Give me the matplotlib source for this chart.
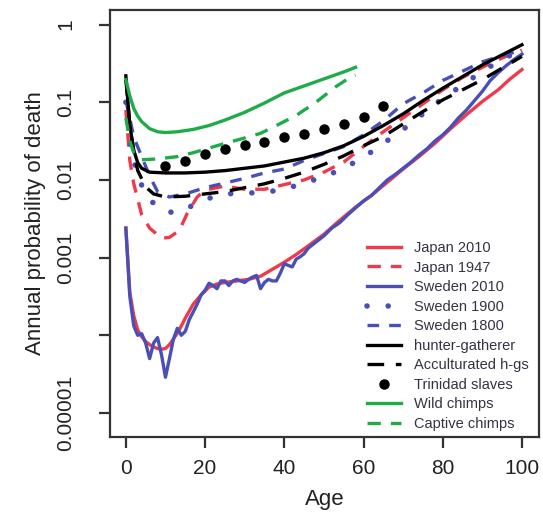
import numpy as np
import matplotlib.pyplot as plt
from matplotlib.ticker import FixedLocator, NullLocator

plt.rcParams['font.family'] = ['Liberation Sans', 'DejaVu Sans']

# log10 of annual probability of death
japan2010_age = [0, 1, 2, 3, 4, 5, 6, 7, 8, 9, 10, 11, 12, 13, 14, 15, 17, 19, 21, 23, 25, 28,
                 31, 34, 37, 40, 43, 46, 50, 54, 58, 62, 66, 70, 74, 78, 82, 86, 90, 94, 97, 100]
japan2010_log = [-2.62, -3.45, -3.75, -3.93, -4.02, -4.08, -4.12, -4.15, -4.17, -4.18, -4.17, -4.12,
                 -4.05, -3.97, -3.88, -3.78, -3.6, -3.48, -3.38, -3.34, -3.32, -3.3, -3.28, -3.24,
                 -3.15, -3.06, -2.96, -2.85, -2.7, -2.52, -2.35, -2.2, -2.03, -1.86, -1.7, -1.53,
                 -1.34, -1.16, -0.99, -0.84, -0.7, -0.58]

sweden2010_age = [0, 1, 2, 3, 4, 5, 6, 7, 8, 9, 10, 11, 12, 13, 14, 15, 16, 17, 18, 19, 20, 21, 22,
                  23, 24, 25, 26, 27, 28, 29, 30, 31, 32, 33, 34, 35, 36, 37, 38, 39, 40, 41, 42,
                  43, 44, 45, 46, 48, 50, 52, 54, 56, 58, 60, 62, 64, 66, 68, 70, 72, 74, 76, 78,
                  80, 82, 84, 86, 88, 90, 92, 94, 96, 98, 100]
sweden2010_log = [-2.62, -3.5, -3.88, -4.0, -3.98, -4.1, -4.3, -4.1, -4.03, -4.25, -4.54, -4.3,
                  -4.05, -3.91, -4.0, -3.95, -3.8, -3.7, -3.6, -3.48, -3.42, -3.33, -3.36, -3.4,
                  -3.3, -3.3, -3.36, -3.3, -3.28, -3.3, -3.32, -3.28, -3.25, -3.23, -3.4, -3.32,
                  -3.28, -3.3, -3.3, -3.2, -3.08, -3.1, -3.12, -3.02, -2.99, -2.95, -2.88, -2.8,
                  -2.72, -2.62, -2.55, -2.45, -2.36, -2.27, -2.2, -2.1, -2.0, -1.93, -1.85, -1.77,
                  -1.68, -1.6, -1.5, -1.42, -1.32, -1.2, -1.1, -0.98, -0.86, -0.72, -0.62, -0.53,
                  -0.45, -0.38]

japan1947_age = [0, 1, 2, 4, 6, 9, 11, 13.5, 15.5, 18, 20, 25, 30, 35, 40, 45, 50, 55, 60, 65, 70,
                 75, 80, 85, 90, 95, 100]
japan1947_log = [-1.1, -1.75, -2.05, -2.45, -2.62, -2.75, -2.74, -2.65, -2.43, -2.22, -2.13, -2.08,
                 -2.12, -2.12, -2.06, -2.0, -1.9, -1.77, -1.57, -1.38, -1.2, -1.02, -0.84, -0.68,
                 -0.55, -0.43, -0.33]

sweden1900_age = [0, 1, 3, 6, 10, 13, 16, 20, 25, 30, 35, 40, 45, 50, 55, 60, 65, 70, 75, 80, 85,
                  90, 95, 100]
sweden1900_log = [-1.0, -1.5, -1.97, -2.26, -2.41, -2.42, -2.35, -2.25, -2.18, -2.17, -2.16, -2.12,
                  -2.04, -1.96, -1.85, -1.71, -1.53, -1.35, -1.15, -0.95, -0.78, -0.6, -0.45, -0.32]

sweden1800_age = [0, 2, 4, 6, 8, 11, 15, 20, 25, 30, 35, 40, 45, 50, 55, 60, 65, 70, 75, 80, 85,
                  90, 95, 100]
sweden1800_log = [-0.97, -1.45, -1.7, -1.95, -2.15, -2.22, -2.18, -2.1, -2.04, -1.98, -1.91, -1.86,
                  -1.75, -1.66, -1.57, -1.42, -1.24, -1.02, -0.88, -0.72, -0.6, -0.48, -0.4, -0.33]

hg_age = [0, 1, 2, 3, 4, 6, 10, 15, 20, 25, 30, 35, 40, 45, 50, 55, 60, 65, 70, 75, 80, 85, 90,
          95, 100]
hg_log = [-0.66, -1.3, -1.62, -1.78, -1.85, -1.9, -1.91, -1.91, -1.9, -1.88, -1.85, -1.82, -1.77,
          -1.72, -1.65, -1.56, -1.44, -1.3, -1.15, -0.98, -0.82, -0.67, -0.52, -0.39, -0.26]

acc_age = [0, 1, 2, 3, 5, 7, 10, 15, 20, 25, 30, 35, 40, 45, 50, 55, 60, 65, 70, 75, 80, 85, 90,
           95, 100]
acc_log = [-0.7, -1.3, -1.65, -1.88, -2.09, -2.18, -2.22, -2.21, -2.18, -2.15, -2.1, -2.05, -1.98,
           -1.9, -1.8, -1.69, -1.56, -1.44, -1.28, -1.12, -0.97, -0.84, -0.71, -0.56, -0.41]

trinidad_age = [10, 15, 20, 25, 30, 35, 40, 45, 50, 55, 60, 65]
trinidad_log = [-1.82, -1.76, -1.66, -1.6, -1.55, -1.51, -1.45, -1.41, -1.34, -1.28, -1.19, -1.05]

wild_age = [0, 1, 2, 3, 4, 6, 8, 10, 13, 17, 21, 25, 30, 35, 40, 45, 50, 55, 58]
wild_log = [-0.71, -0.92, -1.08, -1.18, -1.25, -1.34, -1.38, -1.39, -1.38, -1.35, -1.3, -1.23,
            -1.13, -1.01, -0.88, -0.79, -0.7, -0.61, -0.55]

captive_age = [0, 1, 2, 4, 8, 13, 17, 21, 25, 30, 34, 38, 43, 48, 53, 56, 58]
captive_log = [-1.2, -1.5, -1.65, -1.74, -1.73, -1.7, -1.65, -1.59, -1.53, -1.46, -1.4, -1.3,
               -1.17, -1.0, -0.8, -0.7, -0.65]

red = '#ee3a4a'
blue = '#4a4fb8'
green = '#1fac48'

fig = plt.figure(figsize=(5.43, 5.16), dpi=100)
ax = fig.add_axes([0.2026, 0.153, 0.79, 0.828])

lw = 2.4
ax.plot(japan2010_age, np.power(10.0, japan2010_log), color=red, lw=lw, label='Japan 2010')
ax.plot(japan1947_age, np.power(10.0, japan1947_log), color=red, lw=lw, dashes=(4, 3),
        label='Japan 1947')
ax.plot(sweden2010_age, np.power(10.0, sweden2010_log), color=blue, lw=lw, label='Sweden 2010')
ax.plot(sweden1900_age, np.power(10.0, sweden1900_log), color=blue, lw=4, dashes=(0.01, 3.8),
        dash_capstyle='round', label='Sweden 1900')
ax.plot(sweden1800_age, np.power(10.0, sweden1800_log), color=blue, lw=lw, dashes=(3.5, 3),
        label='Sweden 1800')
ax.plot(hg_age, np.power(10.0, hg_log), color='black', lw=lw, label='hunter-gatherer')
ax.plot(acc_age, np.power(10.0, acc_log), color='black', lw=lw, dashes=(5, 3.5),
        label='Acculturated h-gs')
ax.plot(trinidad_age, np.power(10.0, trinidad_log), 'o', color='black', ms=6.5,
        label='Trinidad slaves')
ax.plot(wild_age, np.power(10.0, wild_log), color=green, lw=lw, label='Wild chimps')
ax.plot(captive_age, np.power(10.0, captive_log), color=green, lw=lw, dashes=(4, 3),
        label='Captive chimps')

ax.set_yscale('log')
ax.set_xlim(-4, 104.3)
ax.set_ylim(10 ** -5.31, 10 ** 0.19)

yticks = [1, 0.1, 0.01, 0.001, 0.0001, 0.00001]
ytick_labels = ['1', '0.1', '0.01', '0.001', '', '0.00001']
ax.yaxis.set_major_locator(FixedLocator(yticks))
ax.yaxis.set_minor_locator(NullLocator())
ax.set_yticklabels(ytick_labels)
ax.set_xticks([0, 20, 40, 60, 80, 100])

ax.tick_params(axis='both', length=8, width=1.6, color='#333333', labelsize=15,
               labelcolor='#222222')
ax.tick_params(axis='x', pad=8)
ax.tick_params(axis='y', pad=17, labelrotation=90)
for t in ax.get_yticklabels():
    t.set_va('center')

for s in ax.spines.values():
    s.set_linewidth(1.6)
    s.set_color('#333333')

ax.set_xlabel('Age', fontsize=16, color='#222222')
ax.xaxis.set_label_coords(0.5, -0.122)
ax.set_ylabel('Annual probability of death', fontsize=16, color='#222222')
ax.yaxis.set_label_coords(-0.15, 0.5)

ax.legend(loc='upper left', bbox_to_anchor=(367 / 543, 1 - 241 / 516),
          bbox_transform=fig.transFigure, frameon=False, fontsize=10.5,
          borderpad=0, borderaxespad=0, handlelength=2.3, handletextpad=0.9,
          labelspacing=0.38, labelcolor='#333344')

fig.savefig('out.png', dpi=100)
